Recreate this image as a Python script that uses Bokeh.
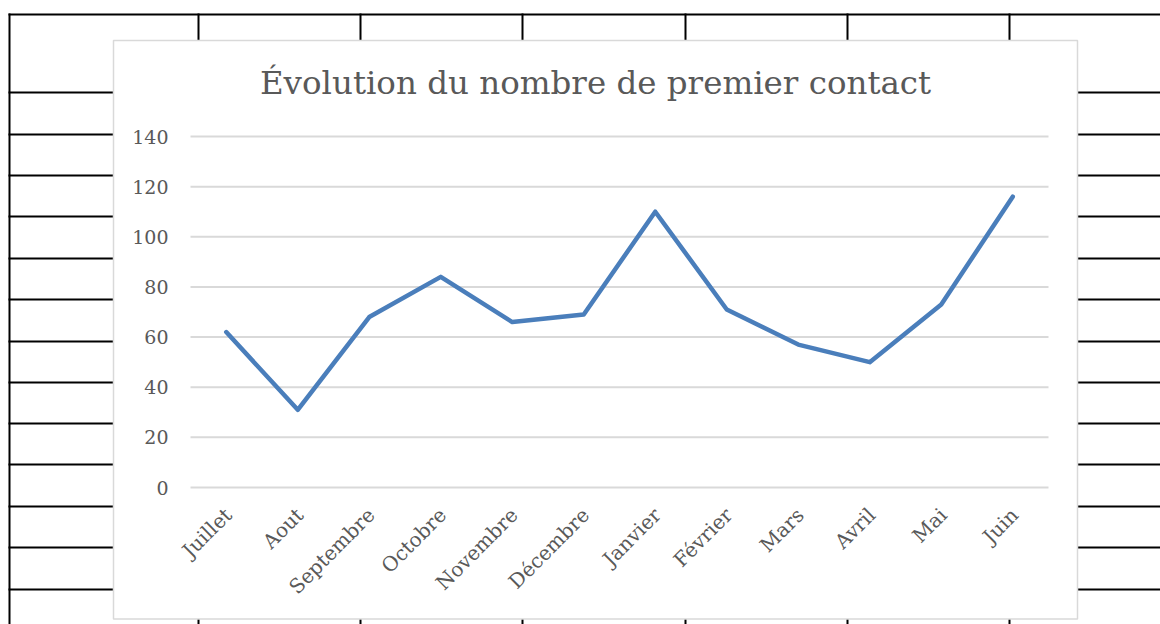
from bokeh.plotting import figure
from bokeh.models import Range1d
from bokeh.embed import file_html
from bokeh.resources import INLINE
from bokeh.core.properties import value
import math

# ---- data ----
months = ["Juillet", "Aout", "Septembre", "Octobre", "Novembre", "Décembre",
          "Janvier", "Février", "Mars", "Avril", "Mai", "Juin"]
contacts = [62, 31, 68, 84, 66, 69, 110, 71, 57, 50, 73, 116]
y_ticks = [0, 20, 40, 60, 80, 100, 120, 140]
y_tick_labels = ["0", "20", "40", "60", "80", "100", "120", "140"]
title_text = "Évolution du nombre de premier contact"

# ---- layout (canvas pixels) ----
W, H = 1160, 624
sheet_cols = [198, 360, 522, 685, 847, 1009]
sheet_rows = [92, 134, 175, 216, 258, 299, 341, 382, 423, 464, 506, 547, 589]
sheet_top, sheet_left = 13, 8
chart_box = dict(left=113, right=1077, top=40, bottom=618.5)
plot_left_px, cat_step_px = 190, 71.5       # plot area left edge, category width
zero_px, top_px, y_max = 487, 136, 140       # pixel rows of value 0 and y_max

FONT = "DejaVu Serif"
TXT = "#595959"

# data ranges mapped so the plot area sits at its place in the canvas
first_center = plot_left_px + cat_step_px / 2
x_start = -first_center / cat_step_px
x_end = (W - first_center) / cat_step_px
ppu = (zero_px - top_px) / y_max
y_start = -(H - zero_px) / ppu
y_end = zero_px / ppu

p = figure(width=W, height=H, output_backend="svg", toolbar_location=None,
           x_range=Range1d(x_start, x_end), y_range=Range1d(y_start, y_end),
           x_axis_location=None, y_axis_location=None, min_border=0,
           background_fill_color="white", border_fill_color="white",
           outline_line_color=None)
p.grid.visible = False
p.extra_x_ranges = {"px": Range1d(0, W)}
p.extra_y_ranges = {"py": Range1d(H, 0)}

# spreadsheet grid behind the chart
hl = [sheet_left, sheet_left]
hr = [W, sheet_left + 2]
ht = [sheet_top, sheet_top]
hb = [sheet_top + 2, H]
for cx in sheet_cols:
    hl.append(cx - 1); hr.append(cx + 1); ht.append(sheet_top); hb.append(H)
for ry in sheet_rows:
    hl.append(sheet_left); hr.append(W); ht.append(ry - 1); hb.append(ry + 1)
p.quad(left=hl, right=hr, top=ht, bottom=hb, fill_color="black",
       line_color=None, x_range_name="px", y_range_name="py")

# chart area
p.quad(left=[chart_box["left"]], right=[chart_box["right"]],
       top=[chart_box["top"]], bottom=[chart_box["bottom"]],
       fill_color="white", line_color="#d9d9d9", line_width=1.5,
       x_range_name="px", y_range_name="py")

idx = list(range(len(months)))

# horizontal gridlines across the category bands
n = len(y_ticks)
p.segment(x0=[-0.5] * n, x1=[len(months) - 0.5] * n, y0=y_ticks, y1=y_ticks,
          line_color="#d9d9d9", line_width=2)

# y tick labels
p.text(x=[-0.5] * n, y=y_ticks, text=y_tick_labels, x_offset=-22,
       text_align="right", text_baseline="middle",
       text_font=value(FONT), text_font_size="19px", text_color=TXT)

# x tick labels (rotated)
p.text(x=idx, y=[0] * len(months), text=months, angle=math.pi / 4,
       x_offset=2, y_offset=24, text_align="right", text_baseline="middle",
       text_font=value(FONT), text_font_size="20px", text_color=TXT)

# title
p.text(x=[(chart_box["left"] + chart_box["right"]) / 2], y=[82],
       text=[title_text], text_align="center", text_baseline="middle",
       text_font=value(FONT), text_font_size="32.5px", text_color=TXT,
       x_range_name="px", y_range_name="py")

# data line
p.line(x=idx, y=contacts, line_width=4.5, line_color="#4a7ebb",
       line_join="round", line_cap="round")

open("out.html", "w").write(file_html(p, INLINE))
